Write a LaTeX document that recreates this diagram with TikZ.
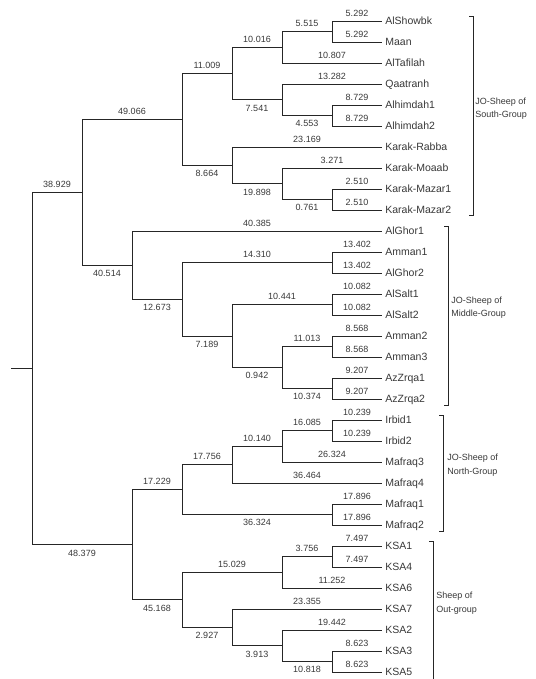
\documentclass[tikz,border=0pt]{standalone}
\usepackage{fontspec}
\setmainfont{Liberation Sans}
\definecolor{treeline}{gray}{0.15}
\definecolor{treetext}{gray}{0.22}
\tikzset{
    leaf/.style={anchor=west, inner sep=3pt, text height=7.6pt, text depth=0pt,
        font=\fontsize{10.5}{12}\selectfont, text=treetext},
    len/.style={inner sep=1pt, text height=6.5pt, text depth=0pt,
        font=\fontsize{9}{10}\selectfont, text=treetext, pos=.75},
    lenup/.style={len, above=3.5pt},
    lendown/.style={len, below=3.5pt},
    grp/.style={anchor=west, align=left, inner sep=0pt,
        font=\fontsize{9}{13.5}\selectfont, text=treetext}
}
\begin{document}
\begin{tikzpicture}[x=1pt, y=-1pt, line width=0.75pt, draw=treeline]
    \useasboundingbox (0,0) rectangle (535,679);
    % leaves
    \foreach \lab [count=\i] in {AlShowbk, Maan, AlTafilah, Qaatranh, Alhimdah1, Alhimdah2,
            Karak-Rabba, Karak-Moaab, Karak-Mazar1, Karak-Mazar2,
            AlGhor1, Amman1, AlGhor2, AlSalt1, AlSalt2, Amman2, Amman3, AzZrqa1, AzZrqa2,
            Irbid1, Irbid2, Mafraq3, Mafraq4, Mafraq1, Mafraq2,
            KSA1, KSA4, KSA6, KSA7, KSA2, KSA3, KSA5}
        \node[leaf] (l\i) at (382,21*\i) {\lab};
    % inner nodes
    \coordinate (s1) at (332,31.5);
    \coordinate (s2) at (282,47.25);
    \coordinate (s3) at (332,115.5);
    \coordinate (s4) at (282,99.75);
    \coordinate (s5) at (232,73.5);
    \coordinate (s6) at (332,199.5);
    \coordinate (s7) at (282,183.75);
    \coordinate (s8) at (232,165.4);
    \coordinate (s9) at (182,119.4);
    \coordinate (m1) at (332,262.5);
    \coordinate (m2) at (332,304.5);
    \coordinate (m3) at (332,346.5);
    \coordinate (m4) at (332,388.5);
    \coordinate (m5) at (282,367.5);
    \coordinate (m6) at (232,336);
    \coordinate (m7) at (182,299.25);
    \coordinate (m8) at (132,265.1);
    \coordinate (r1) at (82,192.3);
    \coordinate (n1) at (332,430.5);
    \coordinate (n2) at (282,446.25);
    \coordinate (n3) at (232,464.6);
    \coordinate (n4) at (332,514.5);
    \coordinate (n5) at (182,489.6);
    \coordinate (o1) at (332,556.5);
    \coordinate (o2) at (282,572.25);
    \coordinate (o3) at (332,661.5);
    \coordinate (o4) at (282,645.75);
    \coordinate (o5) at (232,627.4);
    \coordinate (o6) at (182,599.8);
    \coordinate (n6) at (132,544.7);
    \coordinate (root) at (32,368.5);
    \coordinate (stub) at (11,368.5);
    % branches
    \foreach \p/\c/\v/\s in {
            s1/l1.west/5.292/lenup, s1/l2.west/5.292/lenup,
            s2/s1/5.515/lenup, s2/l3.west/10.807/lenup,
            s3/l5.west/8.729/lenup, s3/l6.west/8.729/lenup,
            s4/l4.west/13.282/lenup, s4/s3/4.553/lendown,
            s5/s2/10.016/lenup, s5/s4/7.541/lendown,
            s6/l9.west/2.510/lenup, s6/l10.west/2.510/lenup,
            s7/l8.west/3.271/lenup, s7/s6/0.761/lendown,
            s8/l7.west/23.169/lenup, s8/s7/19.898/lendown,
            s9/s5/11.009/lenup, s9/s8/8.664/lendown,
            m1/l12.west/13.402/lenup, m1/l13.west/13.402/lenup,
            m2/l14.west/10.082/lenup, m2/l15.west/10.082/lenup,
            m3/l16.west/8.568/lenup, m3/l17.west/8.568/lenup,
            m4/l18.west/9.207/lenup, m4/l19.west/9.207/lenup,
            m5/m3/11.013/lenup, m5/m4/10.374/lendown,
            m6/m2/10.441/lenup, m6/m5/0.942/lendown,
            m7/m1/14.310/lenup, m7/m6/7.189/lendown,
            m8/l11.west/40.385/lenup, m8/m7/12.673/lendown,
            r1/s9/49.066/lenup, r1/m8/40.514/lendown,
            n1/l20.west/10.239/lenup, n1/l21.west/10.239/lenup,
            n2/n1/16.085/lenup, n2/l22.west/26.324/lenup,
            n3/n2/10.140/lenup, n3/l23.west/36.464/lenup,
            n4/l24.west/17.896/lenup, n4/l25.west/17.896/lenup,
            n5/n3/17.756/lenup, n5/n4/36.324/lendown,
            o1/l26.west/7.497/lenup, o1/l27.west/7.497/lenup,
            o2/o1/3.756/lenup, o2/l28.west/11.252/lenup,
            o3/l31.west/8.623/lenup, o3/l32.west/8.623/lenup,
            o4/l30.west/19.442/lenup, o4/o3/10.818/lendown,
            o5/l29.west/23.355/lenup, o5/o4/3.913/lendown,
            o6/o2/15.029/lenup, o6/o5/2.927/lendown,
            n6/n5/17.229/lenup, n6/o6/45.168/lendown,
            root/r1/38.929/lenup, root/n6/48.379/lendown}
        \draw (\p) |- (\c) node[\s] {\v};
    \draw (stub) -- (root);
    % group brackets
    \draw (469,16) -- (473,16) -- (473,215.5) -- (469,215.5);
    \draw (444,226) -- (448,226) -- (448,405) -- (444,405);
    \draw (439,415.5) -- (443,415.5) -- (443,531.5) -- (439,531.5);
    \draw (429,541.5) -- (433,541.5) -- (433,679);
    \node[grp] (south) at (475,108.5) {JO-Sheep of\\South-Group};
    \node[grp] (middle) at (451,307.5) {JO-Sheep of\\Middle-Group};
    \node[grp] (north) at (447,465) {JO-Sheep of\\North-Group};
    \node[grp] (out) at (436,603) {Sheep of\\Out-group};
\end{tikzpicture}
\end{document}
